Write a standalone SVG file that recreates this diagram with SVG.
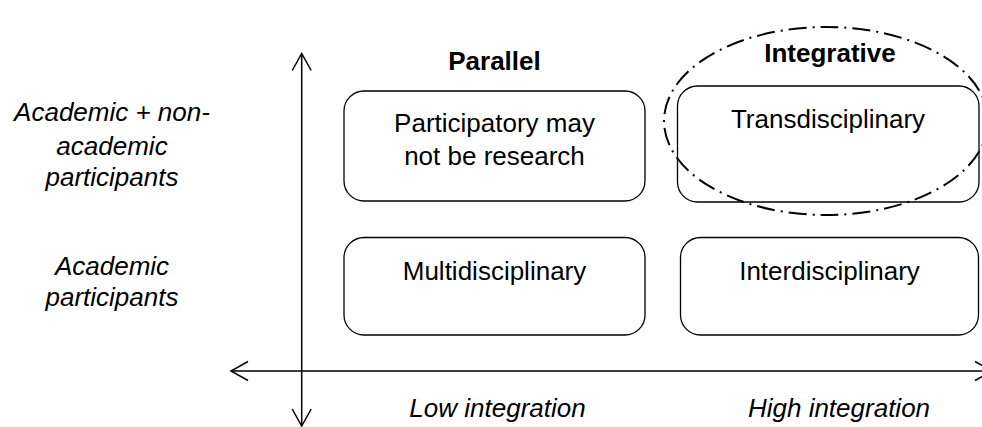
<svg xmlns="http://www.w3.org/2000/svg" width="982" height="427" viewBox="0 0 982 427">
<style>
text{font-family:"Liberation Sans",Arial,sans-serif;font-size:26px;fill:#000;text-anchor:middle}
.b{font-weight:bold}
.i{font-style:italic}
.box{fill:#fff;stroke:#000;stroke-width:1.3}
.ax{fill:none;stroke:#000;stroke-width:1.5}
.ell{fill:none;stroke:#000;stroke-width:2;stroke-dasharray:18 6 2 6}
</style>
<rect width="982" height="427" fill="#fff"/>
<g id="connectors">
<line class="ax" x1="301.7" y1="53.5" x2="301.7" y2="426"/>
<polyline class="ax" points="292.2,70.5 301.7,53.5 311.2,70.5"/>
<polyline class="ax" points="292.2,409 301.7,426 311.2,409"/>
<line class="ax" x1="231" y1="371" x2="992" y2="371"/>
<polyline class="ax" points="248,361.5 231,371 248,380.5"/>
<polyline class="ax" points="975,361.5 992,371 975,380.5"/>
</g>
<g id="rowlabels">
<text class="i" x="112" y="121">Academic + non-</text>
<text class="i" x="112" y="155">academic</text>
<text class="i" x="112" y="186">participants</text>
<text class="i" x="112" y="275">Academic</text>
<text class="i" x="112" y="306">participants</text>
</g>
<g id="collabels">
<text class="b" x="494.5" y="70">Parallel</text>
<text class="b" x="830" y="62">Integrative</text>
<text class="i" x="497.5" y="417">Low integration</text>
<text class="i" x="839" y="417">High integration</text>
</g>
<g id="participatory">
<rect class="box" x="344" y="91" width="301" height="110" rx="20"/>
<text x="494.5" y="132">Participatory may</text>
<text x="494.5" y="165">not be research</text>
</g>
<g id="transdisciplinary">
<rect class="box" x="677.5" y="86" width="301.5" height="116" rx="20"/>
<text x="828" y="128">Transdisciplinary</text>
</g>
<g id="multidisciplinary">
<rect class="box" x="344" y="237.5" width="301" height="97.5" rx="20"/>
<text x="494.5" y="280">Multidisciplinary</text>
</g>
<g id="interdisciplinary">
<rect class="box" x="680.5" y="237.5" width="298" height="97.5" rx="20"/>
<text x="829.5" y="280">Interdisciplinary</text>
</g>
<g id="integrative-ellipse">
<ellipse class="ell" cx="826" cy="121" rx="162" ry="94"/>
</g>
</svg>
